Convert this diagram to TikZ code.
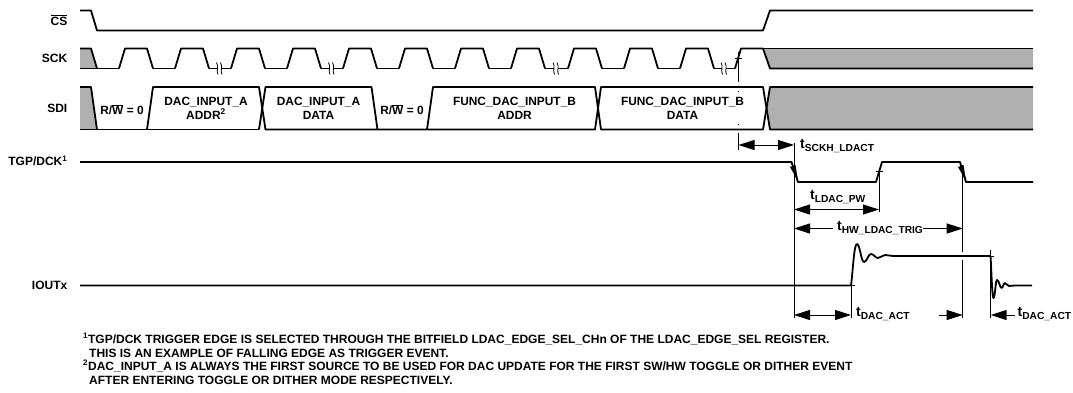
\documentclass[tikz,border=0pt]{standalone}
\usepackage{fontspec}
\setmainfont{Liberation Sans}
\usetikzlibrary{arrows.meta}
\newcommand{\tlabel}[1]{{\fontsize{14}{14}\selectfont t}\raisebox{-3.5pt}{\fontsize{10.2}{12}\selectfont #1}}
\newcommand{\barW}{$\overline{\mbox{W}}$}
\tikzset{
  wave/.style={line width=1.8pt,line join=round},
  thin line/.style={line width=.8pt},
  shade/.style={fill=black!31},
  dim/.style={line width=1pt,{Triangle[length=16pt,width=10pt]}-{Triangle[length=16pt,width=10pt]}},
  dimhead/.style={line width=1pt,-{Triangle[length=16pt,width=10pt]}},
  signame/.style={anchor=east,inner sep=0pt,font=\bfseries\fontsize{12}{12}\selectfont},
  boxtext/.style={align=center,font=\bfseries\fontsize{11.9}{13.8}\selectfont,inner sep=0pt},
  timing/.style={anchor=west,font=\bfseries,inner sep=0pt},
  notetext/.style={anchor=west,inner sep=0pt,font=\bfseries\fontsize{12}{12}\selectfont},
  sckbreak/.pic={
    \fill[white] (-2,-4) rectangle (2,4);
    \draw[thin line] (-3,-6) .. controls (-.5,-2) and (-3.5,2) .. (-1.5,6);
    \draw[thin line] (1,-6) .. controls (3.5,-2) and (.5,2) .. (2.5,6);
  }
}
\begin{document}
\begin{tikzpicture}[x=1pt,y=-1pt]
\useasboundingbox (0,0) rectangle (1073,392);
% Signal names.
\node[signame] (cs) at (67.5,20) {$\overline{\mbox{CS}}$};
\node[signame] (sck) at (67.5,58) {SCK};
\node[signame] (sdi) at (67.5,108) {SDI};
\node[signame] (tgp) at (67.5,161) {TGP/DCK\textsuperscript{1}};
\node[signame] (iout) at (67.5,285) {IOUTx};
% Gray regions.
\fill[shade] (80,48.5) -- (91,48.5) -- (97,68.5) -- (80,68.5) -- cycle;
\fill[shade] (763,48.5) -- (1033,48.5) -- (1033,68.5) -- (770,68.5) -- cycle;
\fill[shade] (80,87) -- (91,87) -- (97,129.5) -- (80,129.5) -- cycle;
\fill[shade] (770,87) -- (1033,87) -- (1033,129.5) -- (770,129.5) -- (766.5,108) -- cycle;
% CS.
\draw[wave] (80,10.5) -- (91,10.5) -- (97,30.5) -- (763,30.5) -- (770,10.5) -- (1033,10.5);
% SCK, pulses then low parts.
\draw[wave] (80,48.5) -- (91,48.5) -- (97,68.5);
\draw[wave] (80,68.5) -- (119,68.5);
\foreach \r in {119,175,231,287,343,399,455,511,568,624,680}{
  \draw[wave] (\r,68.5) -- ++(6,-20) -- ++(22,0) -- ++(6,20);
}
\foreach \a/\b in {153/175,209/231,265/287,321/343,377/399,433/455,489/511,545/568,602/624,658/680,714/735}{
  \draw[wave] (\a,68.5) -- (\b,68.5);
}
\draw[wave] (735,68.5) -- (741,48.5) -- (763,48.5) -- (770,68.5) -- (1033,68.5);
\draw[wave] (763,48.5) -- (1033,48.5);
\foreach \x in {219.5,331.5,556,724}{
  \pic at (\x,68.5) {sckbreak};
}
% SDI.
\draw[wave] (80,87) -- (91,87) -- (97,129.5);
\draw[wave] (80,129.5) -- (259,129.5);
\draw[wave] (147,129.5) -- (153,87) -- (259,87) -- (265.5,129.5) -- (371.5,129.5) -- (433,129.5);
\draw[wave] (259,129.5) -- (265.5,87) -- (371.5,87) -- (377.5,129.5);
\draw[wave] (427,129.5) -- (433,87) -- (595,87) -- (601,129.5) -- (763,129.5) -- (770,87) -- (1033,87);
\draw[wave] (433,129.5) -- (595,129.5) -- (601,87) -- (763,87) -- (770,129.5) -- (1033,129.5);
\node[boxtext] (rwa) at (122,110) {R/\barW{} = 0};
\node[boxtext] (addra) at (206,108) {DAC\_INPUT\_A\\ADDR\textsuperscript{2}};
\node[boxtext] (dataa) at (318.5,108) {DAC\_INPUT\_A\\DATA};
\node[boxtext] (rwb) at (402,110) {R/\barW{} = 0};
\node[boxtext] (addrb) at (514.5,108) {FUNC\_DAC\_INPUT\_B\\ADDR};
\node[boxtext] (datab) at (682.5,108) {FUNC\_DAC\_INPUT\_B\\DATA};
% TGP/DCK with edge markers.
\draw[wave] (80,162) -- (791.5,162) -- (798,182) -- (876,182) -- (882,162) -- (960,162) -- (966,182) -- (1033,182);
\fill (790,167) -- (795.5,165) -- (798,181) -- cycle;
\fill (958,167) -- (963.5,165) -- (966,181) -- cycle;
% IOUTx with ringing.
\draw[wave] (80,285.5) -- (851,285.5) .. controls (853,270) and (854,244) .. (857,244)
  .. controls (860,244) and (861,262) .. (864,262) .. controls (867,262) and (868,254) .. (871,254)
  .. controls (874,254) and (875,258) .. (878,258) .. controls (881,258) and (882,255) .. (885,255)
  .. controls (888,255) and (890,256) .. (895,256) -- (990.5,256)
  .. controls (991.5,270) and (992,298) .. (993.5,298) .. controls (995,298) and (995.5,280) .. (997,280)
  .. controls (999,280) and (1000,288) .. (1001.5,288) .. controls (1003,288) and (1003.5,283) .. (1005,283)
  .. controls (1006.5,283) and (1007,286) .. (1009,286) .. controls (1011,286) and (1012,285.5) .. (1015,285.5) -- (1032,285.5);
% Reference lines.
\coordinate (sckup) at (738.5,52);
\coordinate (trigA) at (794,143);
\coordinate (trigB) at (794,318);
\coordinate (pwend) at (879,171);
\coordinate (trigend) at (962.7,165);
\coordinate (actA) at (851,285);
\coordinate (actB) at (990.7,250);
\draw[thin line] (sckup) -- (738.5,82);
\draw[thin line] (738.5,90.5) -- (738.5,91.5);
\draw[thin line] (738.5,124) -- (738.5,125);
\draw[thin line] (738.5,133) -- (738.5,150);
\draw[thin line] (735,58.5) -- (742,58.5);
\draw[thin line] (trigA) -- (trigB);
\draw[thin line] (pwend) -- (879,212);
\draw[thin line] (875.5,171) -- (882.5,171);
\draw[thin line] (trigend) -- (962.7,252);
\draw[thin line] (962.7,260) -- (962.7,318);
\draw[thin line] (actA) -- (851,318);
\draw[thin line] (actB) -- (990.7,318);
\draw[thin line] (987,256) -- (994,256);
\draw[thin line] (851,285.5) -- (855,285.5);
% Time arrows.
\draw[dim] (738.5,145) -- (794,145);
\draw[dim] (794,209.5) -- (879,209.5);
\draw[dimhead] (833,228.5) -- (794,228.5);
\draw[dimhead] (923,228.5) -- (962.7,228.5);
\draw[dim] (794,315) -- (851,315);
\draw[dimhead] (939,315) -- (962.7,315);
\draw[dimhead] (1015,315) -- (990.7,315);
\node[timing] (tsckh) at (800,146) {\tlabel{SCKH\_LDACT}};
\node[timing] (tpw) at (810,197) {\tlabel{LDAC\_PW}};
\node[timing] (ttrig) at (837,228) {\tlabel{HW\_LDAC\_TRIG}};
\node[timing] (tact) at (856,314) {\tlabel{DAC\_ACT}};
\node[timing] (tactb) at (1017.5,314) {\tlabel{DAC\_ACT}};
% Footnotes.
\node[notetext] (noteA) at (83,339) {\textsuperscript{1}TGP/DCK TRIGGER EDGE IS SELECTED THROUGH THE BITFIELD LDAC\_EDGE\_SEL\_CHn OF THE LDAC\_EDGE\_SEL REGISTER.};
\node[notetext] (noteB) at (89,353) {THIS IS AN EXAMPLE OF FALLING EDGE AS TRIGGER EVENT.};
\node[notetext] (noteC) at (83,366) {\textsuperscript{2}DAC\_INPUT\_A IS ALWAYS THE FIRST SOURCE TO BE USED FOR DAC UPDATE FOR THE FIRST SW/HW TOGGLE OR DITHER EVENT};
\node[notetext] (noteD) at (89,380) {AFTER ENTERING TOGGLE OR DITHER MODE RESPECTIVELY.};
\end{tikzpicture}
\end{document}
